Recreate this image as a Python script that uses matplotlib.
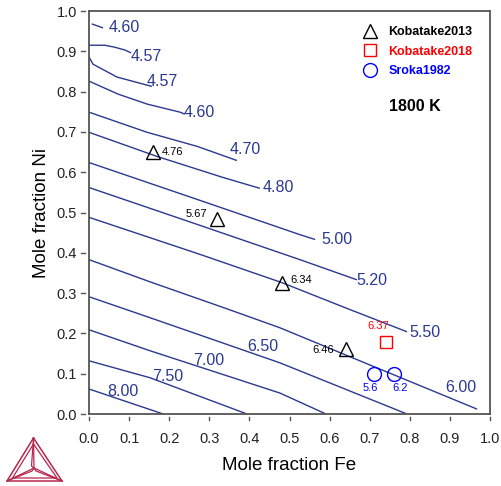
import matplotlib
matplotlib.use("Agg")
import matplotlib.pyplot as plt
import matplotlib.transforms as mtransforms
import numpy as np

plt.rcParams["font.family"] = ["Liberation Sans", "DejaVu Sans"]

# iso-lines (x = mole fraction Fe, y = mole fraction Ni)
iso_labels = ["4.60", "4.57", "4.57", "4.60", "4.70", "4.80", "5.00",
              "5.20", "5.50", "6.00", "6.50", "7.00", "7.50", "8.00"]
iso_fe = [
    [0.007, 0.035],
    [0.0, 0.040, 0.065, 0.090, 0.105],
    [0.0, 0.010, 0.070, 0.145, 0.157],
    [0.0, 0.072, 0.145, 0.227, 0.239],
    [0.0, 0.052, 0.145, 0.270, 0.369],
    [0.0, 0.170, 0.334, 0.426],
    [0.0, 0.277, 0.526, 0.564],
    [0.0, 0.277, 0.526, 0.668],
    [0.0, 0.277, 0.481, 0.651, 0.793],
    [0.0, 0.152, 0.344, 0.476, 0.651, 0.968],
    [0.0, 0.152, 0.476, 0.793],
    [0.0, 0.152, 0.476, 0.591],
    [0.0, 0.152, 0.394],
    [0.0, 0.185],
]
iso_ni = [
    [0.968, 0.958],
    [0.915, 0.915, 0.910, 0.903, 0.896],
    [0.886, 0.868, 0.836, 0.816, 0.813],
    [0.826, 0.794, 0.769, 0.749, 0.744],
    [0.749, 0.731, 0.699, 0.664, 0.629],
    [0.699, 0.639, 0.587, 0.560],
    [0.624, 0.530, 0.445, 0.433],
    [0.562, 0.468, 0.383, 0.333],
    [0.488, 0.396, 0.326, 0.259, 0.204],
    [0.383, 0.328, 0.261, 0.214, 0.142, 0.012],
    [0.291, 0.239, 0.127, 0.0],
    [0.209, 0.157, 0.052, 0.0],
    [0.132, 0.090, 0.0],
    [0.062, 0.0],
]

# experimental points
kob2013_fe = [0.160, 0.319, 0.481, 0.641]
kob2013_ni = [0.649, 0.483, 0.326, 0.162]
kob2013_val = ["4.76", "5.67", "6.34", "6.46"]
kob2018_fe = [0.741]
kob2018_ni = [0.179]
kob2018_val = ["6.37"]
sroka_fe = [0.711, 0.761]
sroka_ni = [0.0995, 0.0995]
sroka_val = ["5.6", "6.2"]

# layout: where the iso-line labels sit (data coords)
iso_label_pos = [(0.087, 0.958), (0.142, 0.888), (0.182, 0.826), (0.274, 0.749),
                 (0.389, 0.657), (0.471, 0.562), (0.618, 0.433), (0.706, 0.331),
                 (0.838, 0.201), (0.928, 0.065), (0.434, 0.167), (0.299, 0.132),
                 (0.197, 0.092), (0.085, 0.057)]
# offsets (points) and alignment of point annotations
kob2013_off = [((6, 0), "left"), ((-7, 3.5), "right"), ((6, 2), "left"), ((-9, -1), "right")]
kob2018_off = [((-6, 11.5), "center")]
sroka_off = [((-3, -10), "center"), ((4, -10), "center")]

line_col = "#2b3990"
spine_col = "#555555"

fig = plt.figure(figsize=(5.01, 4.86), dpi=100)
ax = fig.add_axes([89 / 501, 1 - 414 / 486, 401 / 501, 403 / 486])

for lab, xs, ys, pos in zip(iso_labels, iso_fe, iso_ni, iso_label_pos):
    ax.plot(xs, ys, color=line_col, lw=1.0, solid_capstyle="butt")
    ax.text(pos[0], pos[1], lab, color=line_col, fontsize=11.5,
            ha="center", va="center")

ms = 10
ax.plot(kob2013_fe, kob2013_ni, ls="none", marker="^", ms=ms, mfc="none",
        mec="black", mew=1.0, label="Kobatake2013")
ax.plot(kob2018_fe, kob2018_ni, ls="none", marker="s", ms=ms - 1, mfc="none",
        mec="red", mew=1.0, label="Kobatake2018")
ax.plot(sroka_fe, sroka_ni, ls="none", marker="o", ms=ms, mfc="none",
        mec="blue", mew=1.0, label="Sroka1982")

for xs, ys, vals, offs, col in [(kob2013_fe, kob2013_ni, kob2013_val, kob2013_off, "black"),
                                 (kob2018_fe, kob2018_ni, kob2018_val, kob2018_off, "red"),
                                 (sroka_fe, sroka_ni, sroka_val, sroka_off, "blue")]:
    for x, y, v, (off, ha) in zip(xs, ys, vals, offs):
        ax.annotate(v, (x, y), xytext=off, textcoords="offset points",
                    ha=ha, va="center", fontsize=8, color=col)

leg = ax.legend(loc="upper left", bbox_to_anchor=(0.655, 0.99), frameon=False,
                labelcolor="markeredgecolor", prop={"weight": "bold", "size": 9},
                handlelength=1.2, handletextpad=0.85, labelspacing=0.6, numpoints=1)
ax.text(0.748, 0.762, "1800 K", transform=ax.transAxes, fontsize=11.5,
        fontweight="bold", ha="left", va="center")

ax.set_xlim(0, 1.0)
ax.set_ylim(0, 1.0)
ticks = np.round(np.arange(0, 1.01, 0.1), 1)
ax.set_xticks(ticks)
ax.set_yticks(ticks)
ax.set_xticklabels([f"{t:.1f}" for t in ticks])
ax.set_yticklabels([f"{t:.1f}" for t in ticks])
ax.tick_params(axis="x", length=0, pad=13, labelsize=10.5, labelcolor="#222222")
ax.tick_params(axis="y", length=0, pad=8.5, labelsize=10.5, labelcolor="#222222")

# detached tick dashes
ytr = mtransforms.blended_transform_factory(ax.transAxes, ax.transData)
xtr = mtransforms.blended_transform_factory(ax.transData, ax.transAxes)
for t in ticks:
    ax.plot([-0.020, -0.010], [t, t], transform=ytr, color=spine_col, lw=1.0, clip_on=False)
    ax.plot([t, t], [-0.016, -0.007], transform=xtr, color=spine_col, lw=1.0, clip_on=False)

for s in ax.spines.values():
    s.set_color(spine_col)
    s.set_linewidth(1.3)

ax.set_xlabel("Mole fraction Fe", fontsize=13.5, labelpad=8)
ax.set_ylabel("Mole fraction Ni", fontsize=13.5, labelpad=5)

# Thermo-Calc style logo, pixel coordinates
logo = fig.add_axes([0, 0, 1, 1], zorder=-1)
logo.set_xlim(0, 501)
logo.set_ylim(486, 0)
logo.axis("off")
lc = "#b8264d"
A, B, C, O = (33.5, 438), (7, 481), (62, 481), (34, 468)
logo.plot([A[0], B[0], C[0], A[0]], [A[1], B[1], C[1], A[1]], color=lc, lw=1.1)
Ai, Bi, Ci = (33.5, 444), (12.5, 478), (57, 478)
logo.plot([Ai[0], Bi[0], Ci[0], Ai[0]], [Ai[1], Bi[1], Ci[1], Ai[1]], color=lc, lw=0.9)
for P in (A, B, C):
    logo.plot([P[0], O[0]], [P[1], O[1]], color=lc, lw=0.9)
logo.plot([A[0], 31.5, O[0]], [A[1], 466, O[1]], color=lc, lw=0.9)
logo.plot([B[0], 32, O[0]], [B[1], 471, O[1]], color=lc, lw=0.9)
logo.plot([C[0], 36, O[0]], [C[1], 471, O[1]], color=lc, lw=0.9)

fig.savefig("out.png", dpi=100)
